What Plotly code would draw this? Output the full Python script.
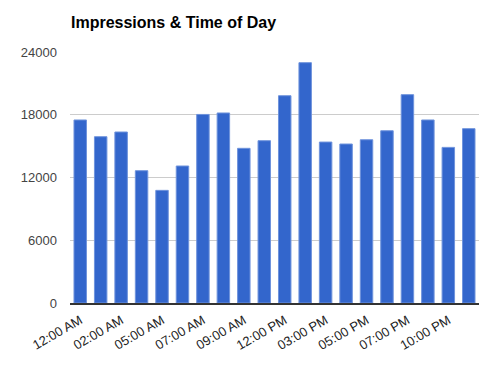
import plotly.graph_objects as go

hours = ["12:00 AM", "01:00 AM", "02:00 AM", "04:00 AM", "05:00 AM", "06:00 AM",
         "07:00 AM", "08:00 AM", "09:00 AM", "11:00 AM", "12:00 PM", "02:00 PM",
         "03:00 PM", "04:00 PM", "05:00 PM", "06:00 PM", "07:00 PM", "09:00 PM",
         "10:00 PM", "11:00 PM"]
impressions = [17500, 15900, 16350, 12650, 10770, 13100, 18030, 18170, 14790, 15520,
               19820, 22980, 15390, 15200, 15610, 16470, 19920, 17500, 14880, 16670]
tick_labels = hours[::2]
y_ticks = [0, 6000, 12000, 18000, 24000]

fig = go.Figure(go.Bar(
    x=hours, y=impressions,
    marker=dict(color="#3366cc", line=dict(color="#6f93dc", width=1)),
))

fig.update_layout(
    width=492, height=366,
    margin=dict(l=70, r=13, t=52, b=63, autoexpand=False),
    paper_bgcolor="white", plot_bgcolor="white",
    bargap=0.39,
    showlegend=False,
    font=dict(family="Liberation Sans, Arial, sans-serif", size=13, color="#222"),
    title=dict(text="<b>Impressions & Time of Day</b>", x=71/492, xanchor="left",
               y=1 - 22/366, yanchor="middle",
               font=dict(size=16, color="#000", family="Liberation Sans, Arial, sans-serif")),
    xaxis=dict(type="category", tickmode="array", tickvals=tick_labels, ticktext=tick_labels,
               tickangle=-30, showgrid=False, showline=True, linecolor="#333", linewidth=1.5,
               ticks="", automargin=False, range=[-0.5, len(hours) - 0.5],
               ticklabelstandoff=3, tickfont=dict(size=13, color="#222")),
    yaxis=dict(range=[0, 24000], tickvals=y_ticks, ticktext=[str(v) for v in y_ticks],
               showgrid=True, gridcolor="#cccccc", gridwidth=1, zeroline=False,
               ticks="", automargin=False, ticklabelstandoff=12,
               tickfont=dict(size=13, color="#444")),
)

fig.write_html("out.html", config={"displayModeBar": False},
               post_script="document.body.style.margin='0';document.body.style.overflow='hidden';")
